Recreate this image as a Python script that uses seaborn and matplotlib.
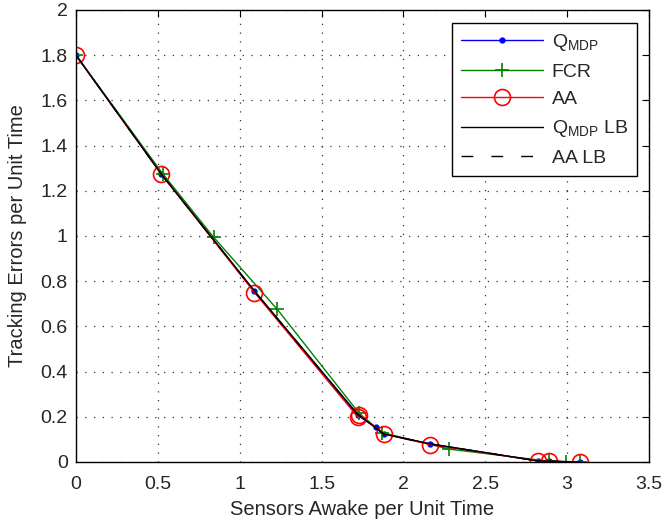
import matplotlib
matplotlib.use("Agg")
import matplotlib.pyplot as plt
import seaborn as sns

sns.set_style("white")
plt.rcParams["font.family"] = ["Liberation Sans", "DejaVu Sans"]
plt.rcParams["mathtext.fontset"] = "custom"
plt.rcParams["mathtext.rm"] = "Liberation Sans"

# Q_MDP
qmdp_x = [0.0, 0.52, 1.09, 1.72, 1.83, 1.88, 2.165, 2.82, 2.89, 3.08]
qmdp_y = [1.8, 1.275, 0.755, 0.207, 0.153, 0.124, 0.08, 0.005, 0.003, 0.0]
# FCR
fcr_x = [0.0, 0.53, 0.84, 1.23, 1.73, 1.87, 2.28, 2.89, 2.99, 3.08]
fcr_y = [1.8, 1.275, 0.995, 0.675, 0.215, 0.13, 0.057, 0.003, 0.0, 0.0]
# AA
aa_x = [0.0, 0.52, 1.09, 1.72, 1.73, 1.88, 2.165, 2.82, 2.89, 3.08]
aa_y = [1.8, 1.275, 0.75, 0.2, 0.21, 0.124, 0.077, 0.005, 0.003, 0.0]
# lower bounds
qlb_x = [0.0, 0.52, 1.09, 1.72, 1.88, 2.165, 2.82, 3.08]
qlb_y = [1.8, 1.275, 0.757, 0.212, 0.124, 0.08, 0.005, 0.0]
aalb_x = [0.0, 0.52, 1.09, 1.72, 1.88, 2.165, 2.82, 3.08]
aalb_y = [1.8, 1.275, 0.755, 0.21, 0.124, 0.079, 0.005, 0.0]

x_ticks = [0, 0.5, 1, 1.5, 2, 2.5, 3, 3.5]
x_labels = ["0", "0.5", "1", "1.5", "2", "2.5", "3", "3.5"]
y_ticks = [0, 0.2, 0.4, 0.6, 0.8, 1, 1.2, 1.4, 1.6, 1.8, 2]
y_labels = ["0", "0.2", "0.4", "0.6", "0.8", "1", "1.2", "1.4", "1.6", "1.8", "2"]

fig = plt.figure(figsize=(6.66, 5.23), dpi=100)
ax = fig.add_axes([76 / 666, 1 - 462 / 523, 573 / 666, 452 / 523])

ax.plot(qmdp_x, qmdp_y, color="blue", marker=".", markersize=7, lw=1,
        label=r"Q$_{\mathrm{MDP}}$")
ax.plot(fcr_x, fcr_y, color="#008000", marker="+", markersize=10,
        markeredgewidth=1.2, lw=1, label="FCR")
ax.plot(aa_x, aa_y, color="red", marker="o", markersize=11.5,
        markerfacecolor="none", markeredgewidth=1.2, lw=1, label="AA")
sns.lineplot(x=qlb_x, y=qlb_y, sort=False, color="black", lw=1, ax=ax,
             label=r"Q$_{\mathrm{MDP}}$ LB")
ax.plot(aalb_x, aalb_y, color="black", lw=1, ls=(0, (8.5, 13)), label="AA LB")

ax.set_xlim(0, 3.5)
ax.set_ylim(0, 2)
ax.set_xticks(x_ticks)
ax.set_xticklabels(x_labels)
ax.set_yticks(y_ticks)
ax.set_yticklabels(y_labels)
ax.grid(True, color="#333333", ls=(0, (1, 6)), lw=0.9)
ax.tick_params(direction="in", top=True, right=True, length=5,
               labelsize=14, color="black", width=0.8)
ax.tick_params(axis="x", pad=10)
ax.tick_params(axis="y", pad=6)
for s in ax.spines.values():
    s.set_color("black")
    s.set_linewidth(1.0)
ax.set_xlabel("Sensors Awake per Unit Time", fontsize=14.5, labelpad=5)
ax.set_ylabel("Tracking Errors per Unit Time", fontsize=14.5, labelpad=10)

leg = ax.legend(loc="upper right", fontsize=14, frameon=True, fancybox=False,
                edgecolor="black", framealpha=1, handlelength=4.2,
                borderpad=0.45, labelspacing=0.52, handletextpad=0.46,
                borderaxespad=0, bbox_to_anchor=(0.979, 0.971))
leg.get_frame().set_linewidth(1.0)

fig.savefig("out.png", dpi=100)
